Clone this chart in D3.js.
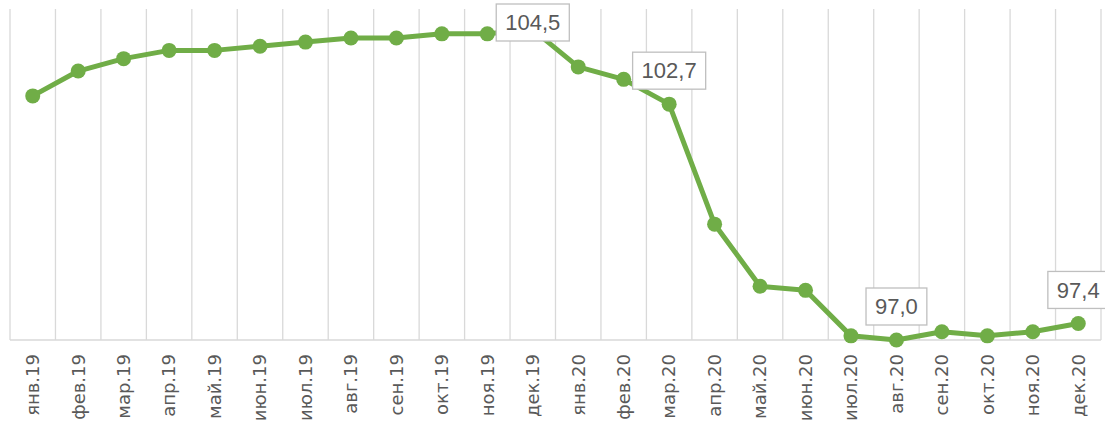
<!DOCTYPE html>
<html>
<head>
<meta charset="utf-8">
<script src="https://cdn.jsdelivr.net/npm/d3@7"></script>
<style>
  body { margin: 0; background: #fff; }
  .grid line { stroke: #d9d9d9; stroke-width: 1.3; }
  .x-axis text { font-family: "DejaVu Sans", sans-serif; font-size: 18px; fill: #595959; }
  .label text { font-family: "Liberation Sans", Arial, sans-serif; font-size: 22px; fill: #595959; }
</style>
</head>
<body>
<div id="chart"></div>
<script>
var months = ['янв.19', 'фев.19', 'мар.19', 'апр.19', 'май.19', 'июн.19',
              'июл.19', 'авг.19', 'сен.19', 'окт.19', 'ноя.19', 'дек.19',
              'янв.20', 'фев.20', 'мар.20', 'апр.20', 'май.20', 'июн.20',
              'июл.20', 'авг.20', 'сен.20', 'окт.20', 'ноя.20', 'дек.20'];

var values = [102.9, 103.5, 103.8, 104.0, 104.0, 104.1,
              104.2, 104.3, 104.3, 104.4, 104.4, 104.5,
              103.6, 103.3, 102.7, 99.8, 98.3, 98.2,
              97.1, 97.0, 97.2, 97.1, 97.2, 97.4];

var labelled = ['дек.19', 'мар.20', 'авг.20', 'дек.20'];

var yDomain = [97, 105];

var Chart = Chart || {};

Chart.draw = function(){
  var width = 1105,
      height = 427,
      left = 10,
      right = 1101,
      top = 9,
      bottom = 340,
      color = '#70ad47';

  var data = months.map(function(m, i){ return {month: m, value: values[i]}; });

  var svg = d3.select('#chart')
              .append('svg')
              .attr('width', width)
              .attr('height', height);

  var x = d3.scaleBand()
            .domain(months)
            .range([left, right])
            .padding(0);

  var y = d3.scaleLinear()
            .domain(yDomain)
            .range([bottom, top]);

  // vertical gridlines on the category edges
  var edges = months.map(function(m){ return x(m); }).concat([right]);

  svg.append('g')
     .attr('class', 'grid')
     .selectAll('line')
     .data(edges)
     .enter()
     .append('line')
     .attr('x1', function(d){ return d; })
     .attr('x2', function(d){ return d; })
     .attr('y1', top)
     .attr('y2', bottom);

  svg.append('g')
     .attr('class', 'grid')
     .append('line')
     .attr('x1', left)
     .attr('x2', right)
     .attr('y1', bottom)
     .attr('y2', bottom);

  var xAxis = svg.append('g')
                 .attr('class', 'x-axis')
                 .attr('transform', 'translate(0,' + bottom + ')')
                 .call(d3.axisBottom(x).tickSize(0).tickPadding(0));

  xAxis.select('.domain').remove();

  xAxis.selectAll('text')
       .attr('transform', 'rotate(-90)')
       .attr('x', -14)
       .attr('y', 0)
       .attr('dy', '0.35em')
       .style('text-anchor', 'end');

  var line = d3.line()
               .x(function(d){ return x(d.month) + x.bandwidth() / 2; })
               .y(function(d){ return y(d.value); });

  svg.append('path')
     .datum(data)
     .attr('fill', 'none')
     .attr('stroke', color)
     .attr('stroke-width', 5)
     .attr('stroke-linejoin', 'round')
     .attr('d', line);

  svg.append('g')
     .selectAll('circle')
     .data(data)
     .enter()
     .append('circle')
     .attr('cx', function(d){ return x(d.month) + x.bandwidth() / 2; })
     .attr('cy', function(d){ return y(d.value); })
     .attr('r', 7.5)
     .attr('fill', color);

  var fmt = d3.format('.1f');

  var labels = svg.append('g')
                  .selectAll('g')
                  .data(data.filter(function(d){ return labelled.indexOf(d.month) >= 0; }))
                  .enter()
                  .append('g')
                  .attr('class', 'label');

  labels.each(function(d){
    var g = d3.select(this),
        cx = x(d.month) + x.bandwidth() / 2,
        boxH = 37,
        boxBottom = Math.max(y(d.value) - 15, 4 + boxH);

    var rect = g.append('rect')
                .attr('fill', '#fff')
                .attr('stroke', '#bfbfbf')
                .attr('stroke-width', 1.3);

    var text = g.append('text')
                .text(fmt(d.value).replace('.', ','))
                .attr('x', cx)
                .attr('y', boxBottom - boxH / 2)
                .attr('dy', '0.35em')
                .attr('text-anchor', 'middle');

    var w = text.node().getComputedTextLength() + 18;

    rect.attr('x', cx - w / 2)
        .attr('y', boxBottom - boxH)
        .attr('width', w)
        .attr('height', boxH);
  });
};

Chart.draw();
</script>
</body>
</html>
